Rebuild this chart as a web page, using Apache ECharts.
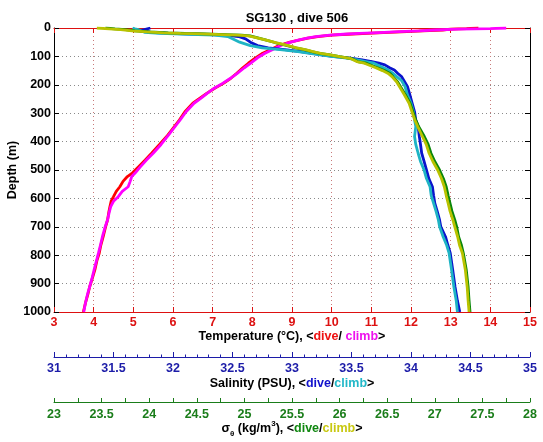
<!DOCTYPE html>
<html>
<head>
<meta charset="utf-8">
<script src="https://cdn.jsdelivr.net/npm/echarts@6/dist/echarts.min.js"></script>
<style>html,body{margin:0;padding:0;background:#fff}#c{width:543px;height:442px}</style>
</head>
<body>
<div id="c"></div>
<script>
// ---- data (depth in m) ----
const depthTd = [0,2,4,7,10,13,16,19,22,25,30,36,42,50,60,75,89,105,124,140,160,178,195,212,230,248,265,295,324,353,382,410,441,465,490,510,523,540,559,575,594,610,629,650,676,700,735,765,793,820,852,880,911,940,970,1000];
const tempDive = [13.7,13.4,13.0,12.8,12.3,11.9,11.3,10.9,10.4,10.0,9.65,9.4,9.2,8.95,8.7,8.48,8.26,8.08,7.9,7.76,7.6,7.45,7.27,7.05,6.85,6.67,6.5,6.3,6.16,6.0,5.84,5.66,5.46,5.3,5.12,4.98,4.85,4.74,4.66,4.57,4.5,4.44,4.41,4.38,4.35,4.3,4.24,4.18,4.14,4.08,4.03,3.97,3.9,3.85,3.79,3.74];
const depthTc = [0,2,4,7,10,13,16,19,22,25,30,36,42,50,60,75,89,105,124,140,160,178,195,212,230,248,265,295,324,353,382,410,441,465,490,510,523,540,559,575,594,610,629,650,676,700,735,765,793,820,852,880,911,940,970,1000];
const tempClimb = [14.4,14.0,13.2,12.6,12.2,11.7,11.2,10.7,10.3,9.95,9.6,9.38,9.18,8.97,8.74,8.53,8.32,8.13,7.96,7.8,7.62,7.44,7.25,7.04,6.86,6.7,6.53,6.33,6.18,6.02,5.86,5.7,5.5,5.33,5.17,5.05,4.96,4.92,4.87,4.72,4.62,4.5,4.43,4.39,4.35,4.29,4.22,4.17,4.12,4.07,4.01,3.96,3.9,3.84,3.79,3.75];

const depthS = [0,3,6,10,15,19,22,25,30,38,50,62,70,76,83,89,95,100,106,112,118,124,130,140,148,160,171,185,206,235,265,295,324,347,382,410,441,470,500,530,559,590,617,645,676,699,735,765,793,850,911,960,1000];
const salDive = [31.81,31.81,31.76,31.72,31.81,31.97,32.23,32.44,32.55,32.61,32.65,32.71,32.80,32.94,33.07,33.17,33.25,33.34,33.49,33.59,33.67,33.73,33.78,33.82,33.86,33.89,33.92,33.94,33.97,33.99,34.01,34.03,34.04,34.06,34.07,34.08,34.09,34.11,34.13,34.15,34.18,34.19,34.20,34.22,34.24,34.25,34.29,34.31,34.33,34.35,34.37,34.39,34.41];
const salClimb = [31.66,31.68,31.71,31.72,31.76,31.89,32.14,32.35,32.46,32.50,32.56,32.65,32.75,32.90,33.05,33.15,33.24,33.33,33.46,33.55,33.62,33.69,33.72,33.77,33.81,33.85,33.88,33.92,33.95,33.97,34.00,34.02,34.03,34.04,34.03,34.04,34.06,34.08,34.11,34.13,34.16,34.17,34.19,34.21,34.23,34.24,34.27,34.30,34.32,34.34,34.36,34.38,34.39];

const depthG = [0,3,6,10,14,17,19,21,23,25,28,32,42,52,60,70,77,83,89,95,101,108,118,124,140,150,160,171,190,207,235,265,295,324,347,382,410,441,470,500,530,559,590,617,645,676,700,735,765,793,850,911,960,1000];
const sigDive = [23.54,23.64,23.75,23.85,24.01,24.20,24.38,24.59,24.80,24.97,25.06,25.11,25.22,25.33,25.43,25.54,25.64,25.71,25.79,25.90,26.00,26.13,26.19,26.28,26.40,26.47,26.53,26.56,26.61,26.64,26.69,26.74,26.77,26.80,26.83,26.89,26.93,26.96,27.00,27.05,27.09,27.12,27.14,27.16,27.18,27.21,27.23,27.25,27.28,27.30,27.33,27.35,27.36,27.37];
const sigClimb = [23.45,23.58,23.70,23.82,23.98,24.15,24.33,24.55,24.76,24.93,25.04,25.10,25.22,25.34,25.44,25.55,25.65,25.72,25.80,25.90,26.00,26.12,26.18,26.26,26.38,26.45,26.51,26.55,26.60,26.63,26.68,26.73,26.76,26.79,26.82,26.87,26.91,26.94,26.98,27.03,27.07,27.10,27.12,27.14,27.16,27.19,27.21,27.24,27.26,27.29,27.32,27.34,27.35,27.36];

const titleText = 'SG130 , dive 506';

// ---- styles ----
const FONT = 'Liberation Sans, Arial, Helvetica, sans-serif';
const RED = '#dd1111', BLUE = '#1c1ca8', GREEN = '#1a7d1a';
const pair = (xs, ds) => xs.map((v, i) => [v, ds[i]]);
const plain = (v) => String(v);

const chart = echarts.init(document.getElementById('c'), null, {renderer: 'canvas'});
const txt = (c) => ({color: c, fontFamily: FONT, fontWeight: 'bold', fontSize: 12.5, formatter: plain});

function lineSeries(name, data, color, xi, z) {
  return {name, type: 'line', data, xAxisIndex: xi, yAxisIndex: 0, showSymbol: false, symbol: 'none',
    lineStyle: {color, width: 2.8}, z, animation: false, silent: true};
}

chart.setOption({
  animation: false,
  backgroundColor: '#fff',
  title: {text: titleText, left: 292, top: 7, textAlign: 'center',
    textStyle: {fontFamily: FONT, fontWeight: 'bold', fontSize: 13, color: '#000'}},
  grid: {left: 54, top: 28, width: 476, height: 284, containLabel: false, outerBoundsMode: 'none'},
  xAxis: [
    {type: 'value', position: 'bottom', min: 3, max: 15, interval: 1,
      axisLine: {show: true, onZero: false, lineStyle: {color: RED, width: 1}},
      axisTick: {show: true, inside: true, length: 5, lineStyle: {color: RED}},
      axisLabel: Object.assign({margin: 4}, txt(RED)),
      splitLine: {show: true, lineStyle: {color: '#c87a7a', type: [1, 3], width: 1}},
      name: '{k|Temperature (°C), <}{r|dive}{k|/ }{m|climb}{k|>}',
      nameLocation: 'middle', nameGap: 18, nameMoveOverlap: false,
      nameTextStyle: {rich: {
        k: {color: '#000', fontFamily: FONT, fontWeight: 'bold', fontSize: 12.5},
        r: {color: '#ee1111', fontFamily: FONT, fontWeight: 'bold', fontSize: 12.5},
        m: {color: '#ee11ee', fontFamily: FONT, fontWeight: 'bold', fontSize: 12.5}}}},
    {type: 'value', position: 'top', min: 3, max: 15, interval: 1,
      axisLine: {show: true, onZero: false, lineStyle: {color: RED, width: 1}},
      axisTick: {show: true, inside: true, length: 5, lineStyle: {color: RED}},
      axisLabel: {show: false}, splitLine: {show: false}},
    {type: 'value', position: 'bottom', offset: 45, min: 31, max: 35, interval: 0.5,
      axisLine: {show: true, onZero: false, lineStyle: {color: BLUE, width: 1}},
      axisTick: {show: true, inside: true, length: 5, lineStyle: {color: BLUE}},
      minorTick: {show: true, splitNumber: 5, length: 2.5, lineStyle: {color: BLUE}},
      axisLabel: Object.assign({margin: 5}, txt(BLUE)),
      splitLine: {show: false},
      name: '{k|Salinity (PSU), <}{b|dive}{k|/}{c|climb}{k|>}',
      nameLocation: 'middle', nameGap: 20, nameMoveOverlap: false,
      nameTextStyle: {rich: {
        k: {color: '#000', fontFamily: FONT, fontWeight: 'bold', fontSize: 12.5},
        b: {color: '#1111cc', fontFamily: FONT, fontWeight: 'bold', fontSize: 12.5},
        c: {color: '#22b8c8', fontFamily: FONT, fontWeight: 'bold', fontSize: 12.5}}}},
    {type: 'value', position: 'bottom', offset: 90, min: 23, max: 28, interval: 0.5,
      axisLine: {show: true, onZero: false, lineStyle: {color: GREEN, width: 1}},
      axisTick: {show: true, inside: true, length: 4, lineStyle: {color: GREEN}},
      minorTick: {show: true, splitNumber: 2, length: 4, lineStyle: {color: GREEN}},
      axisLabel: Object.assign({margin: 6}, txt(GREEN)),
      splitLine: {show: false},
      name: '{k|σ}{s|θ}{k| (kg/m}{p|3}{k|), <}{g|dive}{k|/}{y|climb}{k|>}',
      nameLocation: 'middle', nameGap: 18, nameMoveOverlap: false,
      nameTextStyle: {rich: {
        k: {color: '#000', fontFamily: FONT, fontWeight: 'bold', fontSize: 12.5, lineHeight: 18},
        s: {color: '#000', fontFamily: FONT, fontWeight: 'bold', fontSize: 8, verticalAlign: 'bottom', lineHeight: 10},
        p: {color: '#000', fontFamily: FONT, fontWeight: 'bold', fontSize: 8, verticalAlign: 'top', lineHeight: 10},
        g: {color: '#118811', fontFamily: FONT, fontWeight: 'bold', fontSize: 12.5, lineHeight: 18},
        y: {color: '#c8c811', fontFamily: FONT, fontWeight: 'bold', fontSize: 12.5, lineHeight: 18}}}}
  ],
  yAxis: [
    {type: 'value', position: 'left', inverse: true, min: 0, max: 1000, interval: 100,
      axisLine: {show: true, onZero: false, lineStyle: {color: '#000', width: 1}},
      axisTick: {show: true, inside: true, length: 5, lineStyle: {color: '#000'}},
      axisLabel: Object.assign({margin: 3}, txt('#000')),
      splitLine: {show: true, lineStyle: {color: '#8a8a8a', type: [1, 3], width: 1}},
      name: 'Depth (m)', nameLocation: 'middle', nameGap: 35, nameRotate: 90, nameMoveOverlap: false,
      nameTextStyle: {color: '#000', fontFamily: FONT, fontWeight: 'bold', fontSize: 12.5}},
    {type: 'value', position: 'right', inverse: true, min: 0, max: 1000, interval: 100,
      axisLine: {show: true, onZero: false, lineStyle: {color: '#000', width: 1}},
      axisTick: {show: true, inside: true, length: 5, lineStyle: {color: '#000'}},
      axisLabel: {show: false}, splitLine: {show: false}}
  ],
  series: [
    lineSeries('temp dive', pair(tempDive, depthTd), '#ff0000', 0, 2),
    lineSeries('temp climb', pair(tempClimb, depthTc), '#ff00ff', 0, 3),
    lineSeries('sal dive', pair(salDive, depthS), '#0a14cc', 2, 4),
    lineSeries('sal climb', pair(salClimb, depthS), '#1fb4c4', 2, 5),
    lineSeries('sigma dive', pair(sigDive, depthG), '#0a870a', 3, 6),
    lineSeries('sigma climb', pair(sigClimb, depthG), '#b9c200', 3, 7)
  ]
});
</script>
</body>
</html>
